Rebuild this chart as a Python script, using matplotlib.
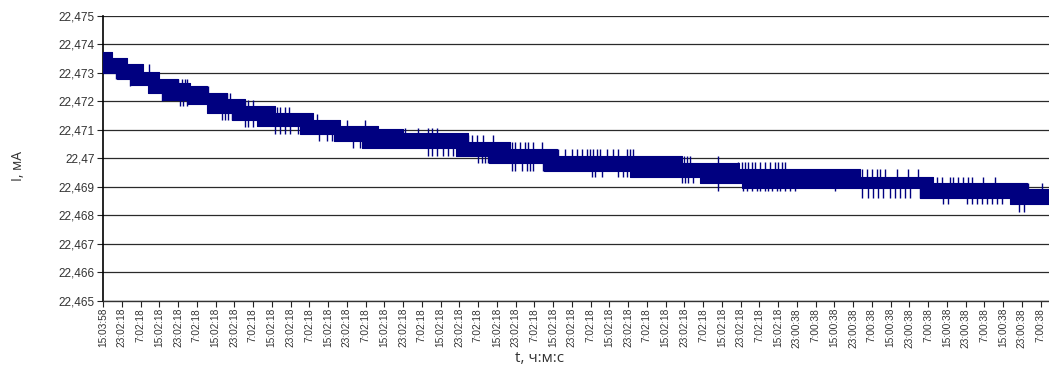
import numpy as np
import matplotlib
matplotlib.use("Agg")
import matplotlib.pyplot as plt
from matplotlib.ticker import FixedLocator, FuncFormatter

# x axis is counted in label steps: one step = one time label
tickLabels = ["15:03:58",
              "23:02:18", "7:02:18", "15:02:18", "23:02:18", "7:02:18", "15:02:18",
              "23:02:18", "7:02:18", "15:02:18", "23:02:18", "7:02:18", "15:02:18",
              "23:02:18", "7:02:18", "15:02:18", "23:02:18", "7:02:18", "15:02:18",
              "23:02:18", "7:02:18", "15:02:18", "23:02:18", "7:02:18", "15:02:18",
              "23:02:18", "7:02:18", "15:02:18", "23:02:18", "7:02:18", "15:02:18",
              "23:02:18", "7:02:18", "15:02:18", "23:02:18", "7:02:18", "15:02:18",
              "23:00:38", "7:00:38", "15:00:38", "23:00:38", "7:00:38", "15:00:38",
              "23:00:38", "7:00:38", "15:00:38", "23:00:38", "7:00:38", "15:00:38",
              "23:00:38", "7:00:38"]
xEnd = 50.45

# the noisy current trace, read as a band: upper edge and lower edge (step levels, mA)
topStart = [0, 0.46, 1.26, 2.12, 3.0, 4.02, 4.64, 5.53, 6.6, 7.57, 9.17, 11.2, 12.64,
            14.68, 16.0, 19.48, 21.7, 24.2, 30.86, 33.9, 40.37, 44.28, 49.26]
topValue = [22.47372, 22.47352, 22.47329, 22.47302, 22.47279, 22.47265, 22.47253,
            22.4723, 22.47207, 22.47184, 22.47158, 22.47135, 22.47112, 22.47102,
            22.47088, 22.47057, 22.47033, 22.47007, 22.46985, 22.46962, 22.46936,
            22.46913, 22.46892]
bottomStart = [0, 0.75, 1.5, 2.42, 3.2, 4.5, 5.53, 6.9, 8.2, 10.5, 12.3, 13.8, 18.8,
               20.6, 23.5, 28.1, 31.84, 34.06, 43.57, 48.37]
bottomValue = [22.473, 22.47279, 22.47256, 22.4723, 22.47203, 22.4719, 22.47158,
               22.47135, 22.47112, 22.47085, 22.47062, 22.47035, 22.47007, 22.46984,
               22.46957, 22.46934, 22.46912, 22.46895, 22.46862, 22.46839]

# single excursions sticking out of the band
upperSpikeT = [2.47, 4.02, 4.2, 4.37, 4.5, 5.6, 6.6, 6.77, 7.57, 7.75, 8.02,
               9.26, 9.44, 9.71, 9.94, 11.4, 13.0, 13.97,
               16.1, 16.81, 17.35, 17.53, 17.8, 19.48, 19.66, 19.93, 20.28, 20.82,
               21.79, 21.97, 22.24, 22.51, 22.68, 22.95, 23.4,
               24.28, 24.64, 24.99, 25.26, 25.53, 25.79, 25.97, 26.15, 26.33, 26.51,
               26.86, 27.22, 27.49, 27.93, 28.11, 28.28, 31.0, 31.13, 31.31, 32.82,
               33.88, 34.06, 34.24, 34.42, 34.6, 34.77, 35.04, 35.31, 35.57, 35.84,
               36.02, 36.2, 36.37, 40.46, 40.73, 41.0, 41.26, 41.44, 41.71, 42.33,
               42.95, 43.48, 44.46, 44.73, 45.17, 45.35, 45.62, 45.88, 46.15, 46.33,
               46.95, 47.57, 49.35, 50.06]
upperSpikeTip = [22.47329, 22.47277, 22.47277, 22.47277, 22.47277, 22.47253, 22.4723,
                 22.4723, 22.47203, 22.47203, 22.47203,
                 22.47178, 22.47178, 22.47178, 22.47178, 22.47155, 22.47135, 22.47135,
                 22.47106, 22.47106, 22.47106, 22.47106, 22.47106,
                 22.47083, 22.47083, 22.47083, 22.47083, 22.47083,
                 22.47057, 22.47057, 22.47057, 22.47057, 22.47057, 22.47057, 22.47057,
                 22.47033, 22.47033, 22.47033, 22.47033, 22.47033, 22.47033, 22.47033,
                 22.47033, 22.47033, 22.47033, 22.47033, 22.47033, 22.47033, 22.47033,
                 22.47033, 22.47033, 22.47007, 22.47007, 22.47007, 22.47007,
                 22.46986, 22.46986, 22.46986, 22.46986, 22.46986, 22.46986, 22.46986,
                 22.46986, 22.46986, 22.46986, 22.46986, 22.46986, 22.46986,
                 22.46962, 22.46962, 22.46962, 22.46962, 22.46962, 22.46962, 22.46962,
                 22.46962, 22.46962, 22.46936, 22.46936, 22.46936, 22.46936, 22.46936,
                 22.46936, 22.46936, 22.46936, 22.46936, 22.46936, 22.46913, 22.46913]
lowerSpikeT = [0.69, 1.44, 3.13, 4.11, 4.28, 4.46, 6.33, 6.51, 6.68, 6.86, 7.57, 7.75,
               8.02, 9.17, 9.44, 9.71, 9.97, 10.42, 11.52, 11.93, 12.2, 13.35, 13.71,
               17.35, 17.53, 17.8, 18.15, 18.42, 18.68, 20.02, 20.2, 20.37, 20.55,
               21.79, 21.97, 22.33, 22.6, 22.77, 22.95, 23.48,
               26.06, 26.24, 26.6, 27.48, 27.75, 27.93, 30.86, 31.04, 31.22, 31.48, 32.82,
               34.15, 34.33, 34.6, 34.86, 35.04, 35.31, 35.48, 35.66, 35.93, 36.11,
               36.37, 36.64, 36.91, 39.04,
               40.46, 40.8, 41.07, 41.33, 41.6, 41.95, 42.22, 42.49, 42.76, 43.02, 43.56,
               44.82, 45.08, 46.06, 46.33, 46.6, 46.86, 47.13, 47.4, 47.66, 47.93,
               48.86, 49.12]
lowerSpikeTip = [22.47277, 22.47253, 22.47201, 22.47184, 22.47184, 22.47184,
                 22.47135, 22.47135, 22.47135, 22.47135, 22.47108, 22.47108, 22.47108,
                 22.47085, 22.47085, 22.47085, 22.47085, 22.47085, 22.47062, 22.47062,
                 22.47062, 22.47035, 22.47035,
                 22.47007, 22.47007, 22.47007, 22.47007, 22.47007, 22.47007,
                 22.46984, 22.46984, 22.46984, 22.46984,
                 22.46957, 22.46957, 22.46957, 22.46957, 22.46957, 22.46957, 22.46957,
                 22.46934, 22.46934, 22.46934, 22.46934, 22.46934, 22.46934,
                 22.46912, 22.46912, 22.46912, 22.46912, 22.46885,
                 22.46886, 22.46886, 22.46886, 22.46886, 22.46886, 22.46886, 22.46886,
                 22.46886, 22.46886, 22.46886, 22.46886, 22.46886, 22.46886, 22.46886,
                 22.46862, 22.46862, 22.46862, 22.46862, 22.46862, 22.46862, 22.46862,
                 22.46862, 22.46862, 22.46862, 22.46862,
                 22.46839, 22.46839, 22.46839, 22.46839, 22.46839, 22.46839, 22.46839,
                 22.46839, 22.46839, 22.46839, 22.46812, 22.46812]

yTicks = [22.465, 22.466, 22.467, 22.468, 22.469, 22.47, 22.471, 22.472, 22.473, 22.474, 22.475]

lineColor = "#000080"


# value of a step function at positions x
def step_at(starts, values, x):
    idx = np.searchsorted(np.asarray(starts), x, side="right") - 1
    return np.asarray(values)[np.clip(idx, 0, len(values) - 1)]


def comma_fmt(v, pos):
    return "{0:.3f}".format(v).rstrip("0").replace(".", ",")


fig = plt.figure(figsize=(10.49, 3.65), dpi=100)
ax = fig.add_axes([103 / 1049, 1 - 301 / 365, 1 - 103 / 1049, (301 - 15.5) / 365])

edges = np.union1d(np.union1d(topStart, bottomStart), [xEnd])
top = step_at(topStart, topValue, edges)
bottom = step_at(bottomStart, bottomValue, edges)
ax.fill_between(edges, bottom, top, step="post", color=lineColor, lw=0.8, zorder=3)

# spikes run from the middle of the band out to their tip
upT = np.asarray(upperSpikeT)
upMid = (step_at(topStart, topValue, upT) + step_at(bottomStart, bottomValue, upT)) / 2
ax.vlines(upT, upMid, upperSpikeTip, color=lineColor, lw=1.0, zorder=2)
loT = np.asarray(lowerSpikeT)
loMid = (step_at(topStart, topValue, loT) + step_at(bottomStart, bottomValue, loT)) / 2
ax.vlines(loT, lowerSpikeTip, loMid, color=lineColor, lw=1.0, zorder=2)

ax.set_xlim(0, xEnd)
ax.set_ylim(22.465, 22.475)
ax.yaxis.set_major_locator(FixedLocator(yTicks))
ax.yaxis.set_major_formatter(FuncFormatter(comma_fmt))
ax.set_xticks(np.arange(len(tickLabels)))
ax.set_xticklabels(tickLabels, rotation=90, fontsize=7.3,
                   family=["Liberation Sans Narrow", "Liberation Sans", "DejaVu Sans"],
                   color="#333333")
for lab in ax.get_yticklabels():
    lab.set_fontsize(8.5)
    lab.set_family(["Liberation Sans", "DejaVu Sans"])
    lab.set_color("#333333")

ax.grid(axis="y", color="#2a2a2a", lw=0.9)
ax.set_axisbelow(True)
ax.tick_params(axis="both", direction="out", length=4, width=0.8, color="#222222", pad=2)
ax.tick_params(axis="x", pad=1)

for side in ["top", "right"]:
    ax.spines[side].set_visible(False)
ax.spines["left"].set_color("black")
ax.spines["left"].set_linewidth(1.2)
ax.spines["bottom"].set_color("#333333")
ax.spines["bottom"].set_linewidth(1.0)

fig.text(18 / 1049, 1 - 166 / 365, "I, мА", rotation=90, ha="center", va="center",
         fontsize=10, family=["Open Sans", "DejaVu Sans"], color="#333333")
fig.text(540 / 1049, 1 - 359 / 365, "t, ч:м:с", ha="center", va="center",
         fontsize=11, family=["Open Sans", "DejaVu Sans"], color="#333333")

fig.savefig("out.png", dpi=100)
